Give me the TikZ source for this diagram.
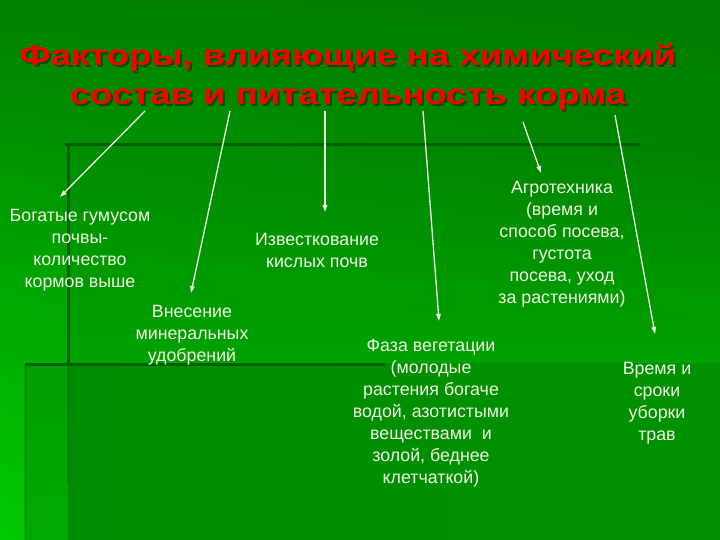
\documentclass[tikz,border=0pt]{standalone}
\usepackage{fontspec}
\setmainfont{Liberation Sans}
\usetikzlibrary{arrows.meta,shadings}
\definecolor{bgA}{RGB}{0,128,0}
\definecolor{bgB}{RGB}{0,124,0}
\definecolor{bgC}{RGB}{0,202,0}
\definecolor{bgD}{RGB}{0,150,0}
\definecolor{pA}{RGB}{0,142,0}
\definecolor{pB}{RGB}{0,130,0}
\definecolor{pC}{RGB}{0,162,0}
\definecolor{pD}{RGB}{0,162,0}
\definecolor{qA}{RGB}{0,160,0}
\definecolor{qB}{RGB}{0,170,0}
\definecolor{rA}{RGB}{0,140,0}
\definecolor{rB}{RGB}{0,146,0}
\definecolor{decodark}{RGB}{0,95,0}
\definecolor{txt}{RGB}{240,245,228}
\definecolor{tred}{RGB}{250,0,0}
\definecolor{tshadow}{RGB}{0,80,0}
\newcommand{\shtitle}[1]{\makebox[0pt][l]{\hspace{1.6pt}\raisebox{-1.6pt}{\textcolor{tshadow}{#1}}}\textcolor{tred}{#1}}
\begin{document}
\begin{tikzpicture}[x=1pt,y=-1pt,
  body/.style={text=txt, font=\fontsize{17.8}{22}\selectfont, align=center, inner sep=0pt},
  ttl/.style={font=\bfseries\fontsize{29}{34}\selectfont, inner sep=0pt, anchor=base},
  conn/.style={draw=txt, line width=1.3pt, -{Triangle[length=7pt,width=4.5pt]}},
  deco/.style={draw=decodark, line width=3pt}]
\useasboundingbox (0,0) rectangle (720,540);
% background
\shade[upper left=bgA, upper right=bgB, lower left=bgC, lower right=bgD] (0,0) rectangle (720,540);
\shade[upper left=pA, upper right=pB, lower left=pC, lower right=pD] (68,145) rectangle (720,363);
\shade[top color=qA, bottom color=qB] (25,363) rectangle (68,540);
\shade[left color=rA, right color=rB] (68,363) rectangle (720,540);
\draw[deco] (65,145) -- (640,145);
\draw[deco] (68,145) -- (68,365);
\draw[deco, opacity=0.4] (68,365) -- (68,485);
\draw[deco] (25,364) -- (385,364);
\draw[deco, opacity=0.25] (25,364) -- (25,540);
% title
\node[ttl] (t1) at (348,66) {\scalebox{1.26}[1]{\shtitle{Факторы, влияющие на химический}}};
\node[ttl] (t2) at (348,105) {\scalebox{1.26}[1]{\shtitle{состав и питательность корма}}};
% text blocks
\node[body] (n1) at (80,250) {Богатые гумусом\\почвы-\\количество\\кормов выше};
\node[body] (n2) at (192,335) {Внесение\\минеральных\\удобрений};
\node[body] (n3) at (317,250) {Известкование\\кислых почв};
\node[body] (n4) at (562,244) {Агротехника\\(время и\\способ посева,\\густота\\посева, уход\\за растениями)};
\node[body] (n5) at (431,413) {Фаза вегетации\\(молодые\\растения богаче\\водой, азотистыми\\веществами \ и\\золой, беднее\\клетчаткой)};
\node[body] (n6) at (657,403) {Время и\\сроки\\уборки\\трав};
% arrows
\coordinate (s1) at (145,111); \coordinate (e1) at (60,197);
\coordinate (s2) at (230,111); \coordinate (e2) at (191,293);
\coordinate (s3) at (325,111); \coordinate (e3) at (325,212);
\coordinate (s4) at (423,111); \coordinate (e4) at (439,321);
\coordinate (s5) at (523,122); \coordinate (e5) at (541,173);
\coordinate (s6) at (615,115); \coordinate (e6) at (655,334);
\draw[conn] (s1) -- (e1);
\draw[conn] (s2) -- (e2);
\draw[conn] (s3) -- (e3);
\draw[conn] (s4) -- (e4);
\draw[conn] (s5) -- (e5);
\draw[conn] (s6) -- (e6);
\end{tikzpicture}
\end{document}
